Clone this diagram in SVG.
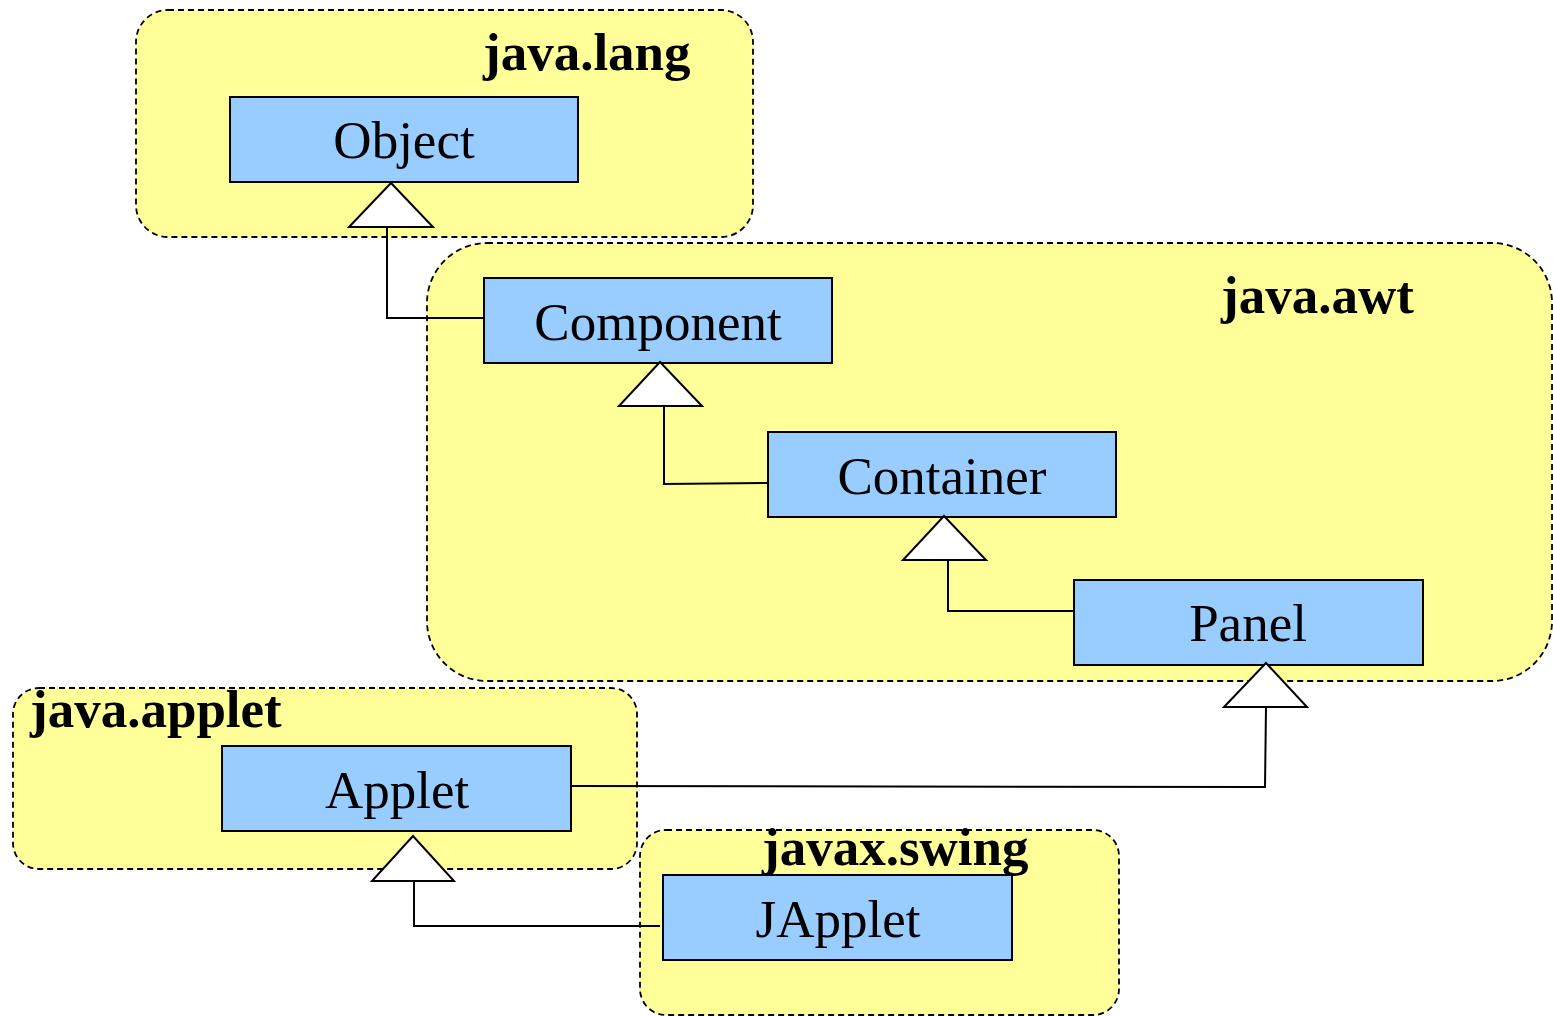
<svg xmlns="http://www.w3.org/2000/svg" width="1553" height="1016" viewBox="0 0 1553 1016">
<style>
.pkg{fill:#FFFF99;stroke:#000;stroke-width:1.8;stroke-dasharray:6 4}
.cls{fill:#99CCFF;stroke:#000;stroke-width:2}
.ct{font-family:"Liberation Serif","Times New Roman",serif;font-size:53px;text-anchor:middle;fill:#000}
.pt{font-family:"Liberation Serif","Times New Roman",serif;font-size:53px;font-weight:bold;fill:#000}
.edge{fill:none;stroke:#000;stroke-width:2}
.tri{fill:#fff;stroke:#000;stroke-width:2}
</style>
<rect width="1553" height="1016" fill="#fff"/>
<g id="pkg-java-lang">
<rect class="pkg" x="136" y="10" width="617" height="227" rx="32"/>
<text class="pt" x="483" y="70">java.lang</text>
</g>
<g id="pkg-java-awt">
<rect class="pkg" x="427" y="243" width="1125" height="438" rx="60"/>
<text class="pt" x="1221" y="313">java.awt</text>
</g>
<g id="pkg-java-applet">
<rect class="pkg" x="13" y="688" width="624" height="181" rx="26"/>
<text class="pt" x="30" y="727">java.applet</text>
</g>
<g id="pkg-javax-swing">
<rect class="pkg" x="640" y="830" width="479" height="185" rx="26"/>
</g>
<g id="connectors">
<polyline class="edge" points="484,318 387,318 387,227"/>
<polyline class="edge" points="768,483 664,484 664,406"/>
<polyline class="edge" points="1077,611 948,611 948,560"/>
<polyline class="edge" points="570,786 1265,787 1266,707"/>
<polyline class="edge" points="660,926 414,926 414,881"/>
</g>
<g id="node-Object">
<rect class="cls" x="230" y="97" width="348" height="85"/>
<text class="ct" x="404" y="158">Object</text>
</g>
<g id="node-Component">
<rect class="cls" x="484" y="278" width="348" height="85"/>
<text class="ct" x="658" y="340">Component</text>
</g>
<g id="node-Container">
<rect class="cls" x="768" y="432" width="348" height="85"/>
<text class="ct" x="942" y="494">Container</text>
</g>
<g id="node-Panel">
<rect class="cls" x="1074" y="580" width="349" height="85"/>
<text class="ct" x="1248" y="641">Panel</text>
</g>
<g id="node-Applet">
<rect class="cls" x="222" y="746" width="349" height="85"/>
<text class="ct" x="397" y="808">Applet</text>
</g>
<g id="node-JApplet">
<rect class="cls" x="663" y="875" width="349" height="85"/>
<text class="ct" x="838" y="937">JApplet</text>
</g>
<g id="arrowheads">
<polygon class="tri" points="391,183 349,227 433,227"/>
<polygon class="tri" points="660,362 619,406 702,406"/>
<polygon class="tri" points="944,516 903,560 986,560"/>
<polygon class="tri" points="1266,663 1224,707 1307,707"/>
<polygon class="tri" points="413,836 372,881 454,881"/>
</g>
<text class="pt" x="762" y="865">javax.swing</text>
</svg>
